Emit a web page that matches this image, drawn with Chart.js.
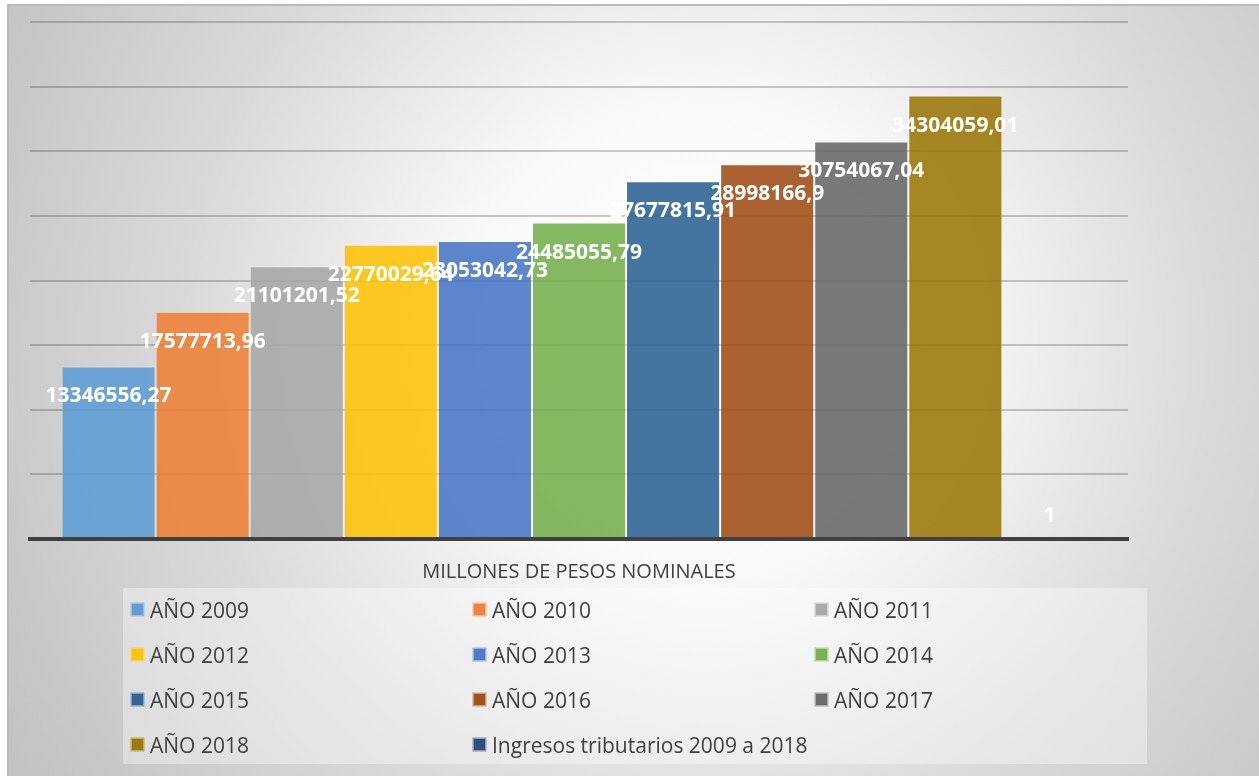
<!DOCTYPE html>
<html>
<head>
<meta charset="utf-8">
<script src="https://cdn.jsdelivr.net/npm/chart.js@4.4.1/dist/chart.umd.min.js"></script>
<style>
html,body{margin:0;padding:0;background:#fff;}
#wrap{width:1259px;height:776px;position:relative;overflow:hidden;}
canvas{display:block;}
</style>
</head>
<body>
<div id="wrap"><canvas id="c" width="1259" height="776"></canvas></div>
<script>
// ---- data ----
const categories = [''];
const seriesNames = ['AÑO 2009','AÑO 2010','AÑO 2011','AÑO 2012','AÑO 2013','AÑO 2014','AÑO 2015','AÑO 2016','AÑO 2017','AÑO 2018','Ingresos tributarios 2009 a 2018'];
const seriesValues = [13346556.27, 17577713.96, 21101201.52, 22770029.64, 23053042.73, 24485055.79, 27677815.91, 28998166.9, 30754067.04, 34304059.01, 1];
const seriesColors = ['#5B9BD5','#ED7D31','#A5A5A5','#FFC000','#4472C4','#70AD47','#255E91','#9E480E','#636363','#997300','#264478'];
const axisTitle = 'MILLONES DE PESOS NOMINALES';
const yMax = 40000000;
const yStep = 5000000;

function hexA(hex, a){
  const n = parseInt(hex.slice(1),16);
  return 'rgba(' + ((n>>16)&255) + ',' + ((n>>8)&255) + ',' + (n&255) + ',' + a + ')';
}
function fmt(v){ return String(v).replace('.', ','); }

const FONT = '"Open Sans", "Liberation Sans", sans-serif';

const bgPlugin = {
  id: 'bgPlugin',
  beforeDraw(chart){
    const ctx = chart.ctx, W = chart.width, H = chart.height;
    ctx.save();
    ctx.fillStyle = '#ffffff';
    ctx.fillRect(0,0,W,H);
    const x0 = 8, y0 = 5, cx = 700, cy = 340, R = 850;
    const g = ctx.createRadialGradient(cx, cy, 0, cx, cy, R);
    g.addColorStop(0, 'rgb(255,255,255)');
    g.addColorStop(0.28, 'rgb(249,249,249)');
    g.addColorStop(0.6, 'rgb(218,218,218)');
    g.addColorStop(0.85, 'rgb(200,200,200)');
    g.addColorStop(1, 'rgb(192,192,192)');
    ctx.fillStyle = g;
    ctx.fillRect(x0, y0, W - x0, H - y0);
    // frame lines
    ctx.strokeStyle = '#bababa';
    ctx.lineWidth = 2;
    ctx.beginPath();
    ctx.moveTo(x0, H); ctx.lineTo(x0, y0); ctx.lineTo(W, y0);
    ctx.stroke();
    ctx.restore();
  }
};

const labelPlugin = {
  id: 'labelPlugin',
  afterDatasetsDraw(chart){
    const ctx = chart.ctx;
    ctx.save();
    ctx.font = 'bold 21px ' + FONT;
    ctx.fillStyle = '#ffffff';
    ctx.textAlign = 'center';
    ctx.textBaseline = 'middle';
    chart.data.datasets.forEach((ds, i) => {
      const meta = chart.getDatasetMeta(i);
      meta.data.forEach((el, j) => {
        const h = Math.abs(el.base - el.y);
        const y = h > 40 ? el.y + 30 : el.base - 22;
        ctx.fillText(fmt(ds.data[j]), el.x, y);
      });
    });
    ctx.restore();
  }
};

const legendPlugin = {
  id: 'legendPlugin',
  afterDraw(chart){
    const ctx = chart.ctx;
    ctx.save();
    ctx.fillStyle = 'rgba(255,255,255,0.36)';
    ctx.fillRect(123, 588, 1024, 176);
    const colX = [131, 473, 815];
    const rowY = [610, 655, 700, 745];
    ctx.font = '21px ' + FONT;
    ctx.textBaseline = 'middle';
    ctx.textAlign = 'left';
    chart.data.datasets.forEach((ds, i) => {
      const cx = colX[i % 3], cy = rowY[Math.floor(i / 3)];
      ctx.fillStyle = hexA(seriesColors[i], 0.5);
      ctx.fillRect(cx - 0.5, cy - 7.5, 14, 14);
      ctx.fillStyle = hexA(seriesColors[i], 0.88);
      ctx.fillRect(cx + 1, cy - 6, 11, 11);
      ctx.fillStyle = '#404040';
      ctx.fillText(ds.label, cx + 19, cy + 2);
    });
    ctx.restore();
  }
};

const datasets = seriesNames.map((name, i) => ({
  label: name,
  data: [seriesValues[i]],
  backgroundColor: hexA(seriesColors[i], 0.86),
  borderColor: 'rgba(255,255,255,0.35)',
  borderWidth: 1,
  categoryPercentage: 0.9426,
  barPercentage: 1.0
}));

new Chart(document.getElementById('c'), {
  type: 'bar',
  data: { labels: categories, datasets: datasets },
  options: {
    responsive: false,
    animation: false,
    devicePixelRatio: 1,
    layout: { padding: { left: 30, right: 131, top: 22, bottom: 192 } },
    plugins: {
      legend: { display: false },
      tooltip: { enabled: false },
      title: { display: false }
    },
    scales: {
      x: {
        grid: { display: false, drawTicks: false },
        border: { display: true, color: '#404040', width: 4, z: 1 },
        ticks: { display: false },
        title: {
          display: true,
          text: axisTitle,
          color: '#404040',
          font: { family: FONT, size: 20 },
          padding: { top: 21, bottom: 0 }
        }
      },
      y: {
        min: 0,
        max: yMax,
        ticks: { display: false, stepSize: yStep },
        grid: { color: 'rgba(0,0,0,0.2)', lineWidth: 2, drawTicks: false },
        border: { display: false }
      }
    }
  },
  plugins: [bgPlugin, labelPlugin, legendPlugin]
});
</script>
</body>
</html>
